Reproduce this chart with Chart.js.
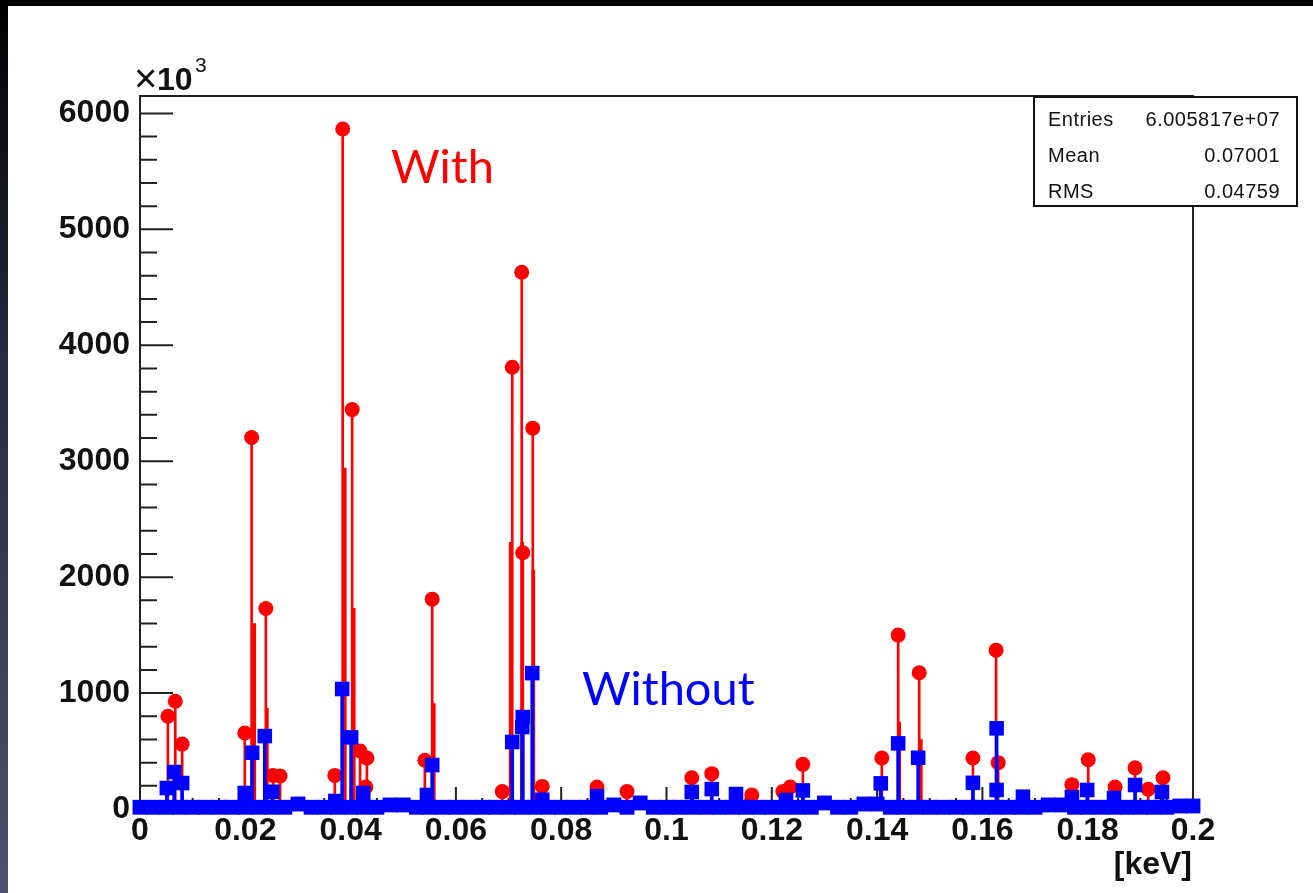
<!DOCTYPE html>
<html lang="en">
<head>
  <meta charset="UTF-8">
  <title>Spektri [keV]</title>
  <script src="https://cdn.jsdelivr.net/npm/chart.js"></script>
  <style>
    body {
      margin: 0;
      background: #fff;
    }
    #wrap {
      position: relative;
      width: 1313px;
      height: 893px;
      overflow: hidden;
    }
    .edge-top {
      position: absolute;
      left: 0; top: 0;
      width: 1313px; height: 6px;
      background: #000;
    }
    .edge-left {
      position: absolute;
      left: 0; top: 0;
      width: 8px; height: 893px;
      background: linear-gradient(#000, #262a40 40%, #4c5272);
    }
  </style>
</head>
<body>
<div id="wrap">
  <canvas id="spektri"></canvas>
  <div class="edge-top"></div>
  <div class="edge-left"></div>
</div>

<script>
  // energia ne keV, numrat ne njesi x10^3
  const withX = [0.0053, 0.0067, 0.0080, 0.0199, 0.0212, 0.0239, 0.0253, 0.0266, 0.0370, 0.0385,
                 0.0403, 0.0418, 0.0431, 0.0429, 0.0541, 0.0555, 0.0688, 0.0707, 0.0725, 0.0727,
                 0.0746, 0.0764, 0.0868, 0.0925, 0.1048, 0.1086, 0.1162, 0.1221, 0.1235, 0.1259,
                 0.1409, 0.1440, 0.1480, 0.1582, 0.1626, 0.1630, 0.1770, 0.1801, 0.1852, 0.1890,
                 0.1915, 0.1943];
  const withY = [800, 930, 560, 655, 3205, 1730, 290, 285, 290, 5865,
                 3445, 500, 440, 190, 420, 1810, 150, 3810, 4630, 2210,
                 3285, 195, 190, 150, 270, 305, 120, 150, 190, 385,
                 440, 1500, 1175, 440, 1370, 400, 210, 425, 190, 355,
                 170, 270];

  // kanale fqinje pa marker (vetem vija)
  const withStemX = [0.0217, 0.0241, 0.0389, 0.0406, 0.0558, 0.0704, 0.0726, 0.0747, 0.1442, 0.1483];
  const withStemY = [1600, 870, 2940, 1730, 910, 2300, 2300, 2060, 750, 600];

  const withoutX = [0.0051, 0.0065, 0.0080, 0.0199, 0.0213, 0.0237, 0.0251, 0.0371, 0.0384, 0.0401,
                    0.0424, 0.0545, 0.0555, 0.0707, 0.0726, 0.0727, 0.0745, 0.0764, 0.0868, 0.1048,
                    0.1086, 0.1132, 0.1227, 0.1259, 0.1407, 0.1440, 0.1478, 0.1582, 0.1627, 0.1627,
                    0.1677, 0.1770, 0.1799, 0.1850, 0.1890, 0.1941];
  const withoutY = [181, 319, 224, 138, 485, 629, 149, 69, 1035, 618,
                    138, 121, 379, 578, 707, 793, 1172, 80, 110, 147,
                    172, 129, 78, 160, 221, 566, 442, 226, 696, 164,
                    106, 103, 164, 95, 207, 147];

  // fondi pa efekt, kanale me hap 0.0025 keV
  const bgStep = 0.0025;
  const withoutBase = [15, 15, 15, 15, 15, 15, 15, 15, 15, 15,
                       15, 15, 43, 15, 15, 15, 15, 15, 15, 35,
                       35, 15, 15, 15, 15, 15, 15, 15, 15, 15,
                       15, 15, 15, 15, 15, 15, 35, 15, 52, 15,
                       15, 15, 15, 15, 15, 15, 15, 15, 15, 15,
                       15, 15, 52, 15, 15, 43, 43, 15, 15, 15,
                       15, 15, 15, 15, 15, 15, 15, 15, 15, 35,
                       35, 15, 15, 15, 15, 15, 15, 15, 15, 26,
                       26];

  const xTicks = [0, 0.02, 0.04, 0.06, 0.08, 0.1, 0.12, 0.14, 0.16, 0.18, 0.2];
  const yTicks = [0, 1000, 2000, 3000, 4000, 5000, 6000];

  const statLabels = ['Entries', 'Mean', 'RMS'];
  const statValues = ['6.005817e+07', '0.07001', '0.04759'];

  const pts = (xs, ys) => xs.map((x, i) => ({ x: x, y: ys[i] }));

  const axisFont = { family: "'Liberation Sans', Arial, sans-serif", size: 32, weight: 'bold' };

  // korniza, vijezat nga brenda dhe kutia e statistikave
  const rootFrame = {
    id: 'rootFrame',
    beforeDatasetsDraw(chart) {
      const { ctx, chartArea: a, scales: { x, y } } = chart;
      ctx.save();
      ctx.strokeStyle = '#222';
      ctx.lineWidth = 2;
      ctx.beginPath();
      // y: 5 ndarje nen cdo vije kryesore
      for (let k = 0; k < yTicks.length; k++) {
        const py = y.getPixelForValue(yTicks[k]);
        ctx.moveTo(a.left, py); ctx.lineTo(a.left + 33, py);
        if (k < yTicks.length - 1) {
          const d = (yTicks[k + 1] - yTicks[k]) / 5;
          for (let m = 1; m < 5; m++) {
            const pm = y.getPixelForValue(yTicks[k] + m * d);
            ctx.moveTo(a.left, pm); ctx.lineTo(a.left + 17, pm);
          }
        }
      }
      // x: 4 ndarje
      for (let k = 0; k < xTicks.length; k++) {
        const px = x.getPixelForValue(xTicks[k]);
        ctx.moveTo(px, a.bottom); ctx.lineTo(px, a.bottom - 22);
        if (k < xTicks.length - 1) {
          const d = (xTicks[k + 1] - xTicks[k]) / 4;
          for (let m = 1; m < 4; m++) {
            const pm = x.getPixelForValue(xTicks[k] + m * d);
            ctx.moveTo(pm, a.bottom); ctx.lineTo(pm, a.bottom - 11);
          }
        }
      }
      ctx.stroke();

      ctx.beginPath();
      ctx.moveTo(a.left, a.bottom); ctx.lineTo(a.left, a.top);
      ctx.lineTo(a.right, a.top); ctx.lineTo(a.right, a.bottom);
      ctx.moveTo(a.left, a.bottom); ctx.lineTo(a.right, a.bottom);
      ctx.stroke();
      ctx.restore();
    },
    afterDraw(chart) {
      const { ctx } = chart;
      ctx.save();
      ctx.fillStyle = '#111';
      ctx.textBaseline = 'alphabetic';

      // x10^3
      ctx.textAlign = 'left';
      ctx.font = "40px 'Liberation Sans', Arial, sans-serif";
      ctx.fillText('\u00d7', 134, 92);
      ctx.font = "bold 32px 'Liberation Sans', Arial, sans-serif";
      ctx.fillText('10', 157, 90);
      ctx.font = "21px 'Liberation Sans', Arial, sans-serif";
      ctx.fillText('3', 195, 72);

      // njesia e boshtit x
      ctx.textAlign = 'right';
      ctx.font = "bold 32px 'Liberation Sans', Arial, sans-serif";
      ctx.fillText('[keV]', 1192, 874);

      // kutia e statistikave
      ctx.fillStyle = '#fff';
      ctx.fillRect(1034, 97, 263, 109);
      ctx.strokeStyle = '#111';
      ctx.lineWidth = 2;
      ctx.strokeRect(1034, 97, 263, 109);
      ctx.fillStyle = '#111';
      ctx.font = "20px 'Liberation Sans', Arial, sans-serif";
      ctx.letterSpacing = '0.5px';
      ctx.textBaseline = 'middle';
      for (let i = 0; i < statLabels.length; i++) {
        const ry = 120 + i * 36;
        ctx.textAlign = 'left';
        ctx.fillText(statLabels[i], 1048, ry);
        ctx.textAlign = 'right';
        ctx.fillText(statValues[i], 1280, ry);
      }
      ctx.letterSpacing = '0px';

      // emertimet e serive
      ctx.textAlign = 'left';
      ctx.textBaseline = 'alphabetic';
      ctx.font = "47px Lato, 'Open Sans', sans-serif";
      ctx.fillStyle = '#ff0000';
      ctx.fillText('With', 391, 183);
      ctx.fillStyle = '#0000ff';
      ctx.fillText('Without', 582, 705);
      ctx.restore();
    }
  };

  const ctx = document.getElementById('spektri').getContext('2d');

  new Chart(ctx, {
    type: 'scatter',
    data: {
      datasets: [
        {
          label: 'Without',
          data: pts(withoutX, withoutY),
          backgroundColor: '#0000ff',
          pointStyle: 'rect',
          pointRadius: 10.3,
          borderWidth: 0,
          clip: false,
          order: 0
        },
        {
          label: 'Without fondi',
          data: withoutBase.map((v, i) => ({ x: i * bgStep, y: v })),
          backgroundColor: '#0000ff',
          pointStyle: 'rect',
          pointRadius: 10.5,
          borderWidth: 0,
          clip: false,
          order: 0
        },
        {
          type: 'bar',
          label: 'Without vija',
          data: pts(withoutX, withoutY),
          backgroundColor: '#0000ff',
          barThickness: 3,
          grouped: false,
          order: 1
        },
        {
          label: 'With',
          data: pts(withX, withY),
          backgroundColor: '#ff0000',
          pointStyle: 'circle',
          pointRadius: 7.5,
          borderWidth: 0,
          clip: false,
          order: 2
        },
        {
          type: 'bar',
          label: 'With vija',
          data: pts(withX, withY),
          backgroundColor: '#ff0000',
          barThickness: 2,
          grouped: false,
          order: 3
        },
        {
          type: 'bar',
          label: 'With kanale',
          data: pts(withStemX, withStemY),
          backgroundColor: '#ff0000',
          barThickness: 3,
          grouped: false,
          order: 3
        }
      ]
    },
    options: {
      responsive: true,
      maintainAspectRatio: false,
      animation: false,
      events: [],
      layout: { padding: { top: 96, right: 120, left: 0, bottom: 0 } },
      plugins: {
        legend: { display: false },
        tooltip: { enabled: false }
      },
      scales: {
        x: {
          type: 'linear',
          min: 0,
          max: 0.2,
          offset: false,
          grid: { display: false, drawTicks: false },
          border: { display: false },
          afterBuildTicks: s => { s.ticks = xTicks.map(v => ({ value: v })); },
          afterFit: s => { s.height = 84; },
          ticks: {
            color: '#111',
            font: axisFont,
            padding: 3,
            maxRotation: 0,
            autoSkip: false,
            callback: v => String(+v.toFixed(2))
          }
        },
        y: {
          type: 'linear',
          min: 0,
          max: 6150,
          grid: { display: false, drawTicks: false },
          border: { display: false },
          afterBuildTicks: s => { s.ticks = yTicks.map(v => ({ value: v })); },
          afterFit: s => { s.width = 140; },
          ticks: {
            color: '#111',
            font: axisFont,
            padding: 10,
            callback: v => String(v)
          }
        }
      }
    },
    plugins: [rootFrame]
  });
</script>
</body>
</html>
